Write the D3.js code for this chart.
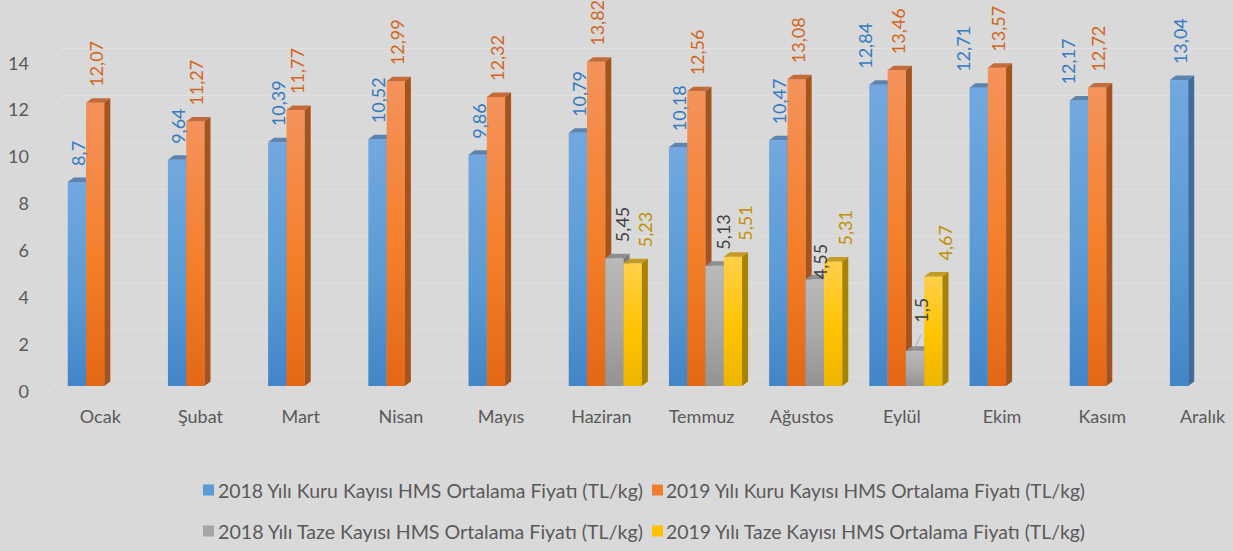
<!DOCTYPE html>
<html>
<head>
<meta charset="utf-8">
<script src="https://cdn.jsdelivr.net/npm/d3@7/dist/d3.min.js"></script>
<style>
  html, body { margin: 0; padding: 0; background: #d9d9d9; }
  svg { display: block; }
  text { font-family: Lato, "Noto Sans", "DejaVu Sans", sans-serif; }
</style>
</head>
<body>
<svg id="chart" width="1233" height="551"></svg>
<script>
const months = ["Ocak", "Şubat", "Mart", "Nisan", "Mayıs", "Haziran", "Temmuz", "Ağustos", "Eylül", "Ekim", "Kasım", "Aralık"];
const kuru2018 = [8.7, 9.64, 10.39, 10.52, 9.86, 10.79, 10.18, 10.47, 12.84, 12.71, 12.17, 13.04];
const kuru2019 = [12.07, 11.27, 11.77, 12.99, 12.32, 13.82, 12.56, 13.08, 13.46, 13.57, 12.72, null];
const taze2018 = [null, null, null, null, null, 5.45, 5.13, 4.55, 1.5, null, null, null];
const taze2019 = [null, null, null, null, null, 5.23, 5.51, 5.31, 4.67, null, null, null];
const seriesNames = [
  "2018 Yılı Kuru Kayısı HMS Ortalama Fiyatı (TL/kg)",
  "2019 Yılı Kuru Kayısı HMS Ortalama Fiyatı (TL/kg)",
  "2018 Yılı Taze Kayısı HMS Ortalama Fiyatı (TL/kg)",
  "2019 Yılı Taze Kayısı HMS Ortalama Fiyatı (TL/kg)"
];
const yTicks = [0, 2, 4, 6, 8, 10, 12, 14];

const seriesValues = [kuru2018, kuru2019, taze2018, taze2019];
const seriesKeys = ["k18", "k19", "t18", "t19"];

const styles = {
  k18: { top: "#72a8df", mid: "#5b9bd5", bot: "#4285c8", side: "#3f6c9c", cap: "#5b84b0", label: "#3479c2", legend: "#5b9bd5", ldx: 1 },
  k19: { top: "#f5935c", mid: "#f47f2a", bot: "#e36816", side: "#a4531c", cap: "#c36b3b", label: "#d2651c", legend: "#ed7d31", ldx: 1 },
  t18: { top: "#bababa", mid: "#a8a8a8", bot: "#939393", side: "#7b7b7b", cap: "#8e8e8e", label: "#404040", legend: "#a5a5a5", ldx: 8 },
  t19: { top: "#ffd04a", mid: "#ffc300", bot: "#ecb500", side: "#a78300", cap: "#c49b25", label: "#bf9000", legend: "#ffc000", ldx: 12 }
};

// special label adjustments (Excel auto placement)
const labelAdjust = {
  "k18-8": { dx: -14 }, "k18-9": { dx: -17 }, "k18-10": { dx: -12 },
  "t18-7": { dy: 16, dx: -3 },
  "t18-8": { dy: -12, dx: -2, leader: true }
};

const svg = d3.select("#chart");
const W = 1233;
const depthX = 6, depthY = -4.5;

const y = d3.scaleLinear().domain([0, 14]).range([386, 386 - 14 * 23.46]);
const x0 = d3.scaleBand().domain(months).range([54.2, 1256.6]).paddingInner(0.27).paddingOuter(0.135);
const x1 = d3.scaleBand().domain(seriesKeys).range([0, x0.bandwidth()]);

// gradients
const defs = svg.append("defs");
seriesKeys.forEach(k => {
  const g = defs.append("linearGradient").attr("id", "g-" + k)
    .attr("x1", 0).attr("y1", 0).attr("x2", 0).attr("y2", 1);
  g.append("stop").attr("offset", "0%").attr("stop-color", styles[k].top);
  g.append("stop").attr("offset", "55%").attr("stop-color", styles[k].mid);
  g.append("stop").attr("offset", "100%").attr("stop-color", styles[k].bot);
});

// gridlines (3D wall)
const grid = svg.append("g");
yTicks.forEach(t => {
  const yf = y(t) + 5, yb = y(t) - 9;
  grid.append("path")
    .attr("d", `M48,${yf} L65,${yb} H${W}`)
    .attr("fill", "none").attr("stroke", "#e1e1e1").attr("stroke-width", 1);
});

// y axis labels
svg.append("g").selectAll("text").data(yTicks).join("text")
  .attr("x", 29).attr("y", d => y(d) + 5)
  .attr("text-anchor", "end").attr("dominant-baseline", "central")
  .attr("font-size", 18).attr("fill", "#595959")
  .text(d => d);

// x axis labels
svg.append("g").selectAll("text").data(months).join("text")
  .attr("x", d => x0(d) + x0.bandwidth() / 2 - 4).attr("y", 423)
  .attr("text-anchor", "middle")
  .attr("font-size", 18).attr("fill", "#595959")
  .text(d => d);

// bars
const barsG = svg.append("g");
const labelData = [];
months.forEach((m, i) => {
  seriesKeys.forEach((k, s) => {
    const v = seriesValues[s][i];
    if (v == null) return;
    const bx = x0(m) + x1(k);
    const bw = x1.bandwidth();
    const yt = y(v), yb = y(0);
    const st = styles[k];
    const g = barsG.append("g");
    g.append("rect").attr("x", bx).attr("y", yt).attr("width", bw).attr("height", yb - yt)
      .attr("fill", `url(#g-${k})`);
    g.append("path")
      .attr("d", `M${bx},${yt} L${bx + depthX},${yt + depthY} L${bx + bw + depthX},${yt + depthY} L${bx + bw},${yt} Z`)
      .attr("fill", st.cap);
    g.append("path")
      .attr("d", `M${bx + bw},${yt} L${bx + bw + depthX},${yt + depthY} L${bx + bw + depthX},${yb + depthY} L${bx + bw},${yb} Z`)
      .attr("fill", st.side);
    const adj = labelAdjust[k + "-" + i] || {};
    labelData.push({
      v, k, cx: bx + bw / 2, yt,
      lx: bx + bw / 2 + st.ldx + (adj.dx || 0),
      ly: yt - 16 + (adj.dy || 0),
      leader: adj.leader
    });
  });
});

// data labels
const lg = svg.append("g");
labelData.forEach(d => {
  if (d.leader) {
    lg.append("line")
      .attr("x1", d.cx - 1).attr("y1", d.yt - 1)
      .attr("x2", d.lx).attr("y2", d.ly + 12)
      .attr("stroke", "#a6a6a6").attr("stroke-width", 1);
  }
  lg.append("text")
    .attr("transform", `translate(${d.lx},${d.ly}) rotate(-90)`)
    .attr("text-anchor", "start").attr("dominant-baseline", "central")
    .attr("font-size", 18).attr("fill", styles[d.k].label)
    .text(String(d.v).replace(".", ","));
});

// legend
const legendPos = [
  { mx: 203, tx: 218, cy: 490, len: 425 },
  { mx: 652, tx: 666, cy: 490, len: 419 },
  { mx: 203, tx: 218, cy: 531, len: 425 },
  { mx: 652, tx: 666, cy: 531, len: 419 }
];
const leg = svg.append("g");
seriesKeys.forEach((k, s) => {
  const p = legendPos[s];
  leg.append("rect").attr("x", p.mx).attr("y", p.cy - 5.5).attr("width", 11).attr("height", 11)
    .attr("fill", styles[k].legend);
  leg.append("text").attr("x", p.tx).attr("y", p.cy).attr("dominant-baseline", "central")
    .attr("font-size", 19).attr("fill", "#595959")
    .attr("textLength", p.len).attr("lengthAdjust", "spacingAndGlyphs")
    .text(seriesNames[s]);
});
</script>
</body>
</html>
